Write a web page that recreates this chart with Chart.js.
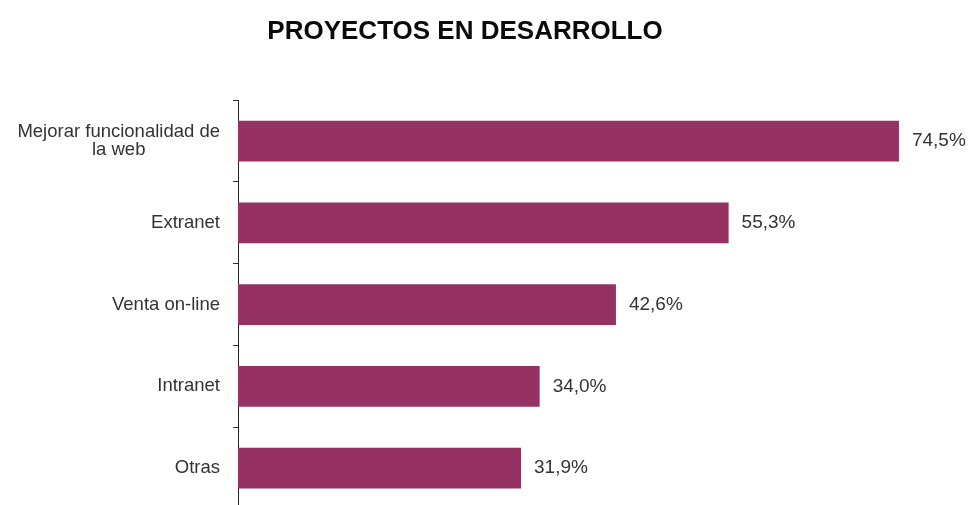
<!DOCTYPE html>
<html>
<head>
<meta charset="utf-8">
<script src="https://cdn.jsdelivr.net/npm/chart.js@4/dist/chart.umd.min.js"></script>
<style>
  html, body { margin: 0; padding: 0; background: #fff; overflow: hidden; }
  #chartId { display: block; }
</style>
</head>
<body>
<canvas id="chartId" width="968" height="509"></canvas>
<script>
// data
const categories = [["Mejorar funcionalidad de", "la web"], "Extranet", "Venta on-line", "Intranet", "Otras"];
const values = [74.5, 55.3, 42.6, 34.0, 31.9];
const chartTitle = "PROYECTOS EN DESARROLLO";

const barColor = "#953262";
const fontName = "'Liberation Sans', Arial, sans-serif";

// category labels: lines centred on each other, block right-aligned
const catLabels = {
    id: "catLabels",
    afterDraw(chart) {
        const ctx = chart.ctx;
        const yScale = chart.scales.y;
        const rightX = 220;
        const lineH = 18;
        ctx.save();
        ctx.font = "18.5px " + fontName;
        ctx.fillStyle = "#333";
        ctx.textBaseline = "middle";
        ctx.textAlign = "center";
        categories.forEach((cat, i) => {
            const lines = Array.isArray(cat) ? cat : [cat];
            const widest = Math.max(...lines.map(l => ctx.measureText(l).width));
            const cx = rightX - widest / 2;
            const yc = yScale.getPixelForTick(i);
            const y0 = yc - (lines.length - 1) * lineH / 2;
            lines.forEach((l, j) => ctx.fillText(l, cx, y0 + j * lineH));
        });
        ctx.restore();
    }
};

// value labels to the right of each bar
const valueLabels = {
    id: "valueLabels",
    afterDatasetsDraw(chart) {
        const ctx = chart.ctx;
        const meta = chart.getDatasetMeta(0);
        ctx.save();
        ctx.font = "19px " + fontName;
        ctx.fillStyle = "#333";
        ctx.textBaseline = "middle";
        ctx.textAlign = "left";
        meta.data.forEach((bar, i) => {
            const txt = values[i].toFixed(1).replace(".", ",") + "%";
            ctx.fillText(txt, bar.x + 13, bar.y);
        });
        ctx.restore();
    }
};

var chrt = document.getElementById("chartId").getContext("2d");
var chartId = new Chart(chrt, {
    type: 'bar',
    data: {
        labels: categories,
        datasets: [{
            data: values,
            backgroundColor: barColor,
            borderWidth: 0,
            barPercentage: 0.5,
            categoryPercentage: 1.0,
        }],
    },
    options: {
        indexAxis: 'y',
        responsive: false,
        animation: false,
        layout: {
            padding: { top: 0, right: 38, bottom: 0, left: 0 },
        },
        scales: {
            x: {
                display: false,
                min: 0,
                max: 78,
            },
            y: {
                position: 'left',
                grid: {
                    drawOnChartArea: false,
                    drawTicks: true,
                    tickLength: 5,
                    color: '#333',
                    offset: true,
                },
                border: { display: true, color: '#222', width: 1 },
                ticks: {
                    color: 'rgba(0,0,0,0)',
                    font: { family: fontName, size: 18 },
                    padding: 13,
                },
                afterFit: (scale) => {
                    scale.width = 238;
                    scale.paddingTop = 0;
                    scale.paddingBottom = 0;
                },
            },
        },
        plugins: {
            legend: { display: false },
            tooltip: { enabled: false },
            title: {
                display: true,
                text: chartTitle,
                color: '#0a0a0a',
                font: { family: fontName, size: 26, weight: 'bold' },
                padding: { top: 16, bottom: 53 },
            },
        },
    },
    plugins: [catLabels, valueLabels],
});
</script>
</body>
</html>
